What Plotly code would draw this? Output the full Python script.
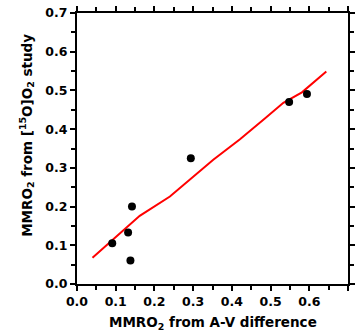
import plotly.graph_objects as go

# Data points (MMRO2 from A-V difference vs from [15O]O2 study)
av_diff = [0.091, 0.132, 0.142, 0.138, 0.294, 0.548, 0.594]
o15_study = [0.105, 0.133, 0.200, 0.061, 0.325, 0.470, 0.491]

# Red regression/smoothing line
line_x = [0.040, 0.162, 0.240, 0.292, 0.352, 0.421, 0.451, 0.486, 0.533, 0.581, 0.644]
line_y = [0.068, 0.176, 0.226, 0.269, 0.321, 0.374, 0.400, 0.428, 0.468, 0.495, 0.549]

FONT = "DejaVu Sans"

fig = go.Figure()
fig.add_trace(go.Scatter(x=line_x, y=line_y, mode="lines",
                         line=dict(color="#ff0000", width=2), showlegend=False))
fig.add_trace(go.Scatter(x=av_diff, y=o15_study, mode="markers",
                         marker=dict(color="black", size=8), showlegend=False))

axis_common = dict(
    range=[0, 0.7], tick0=0, dtick=0.1, tickformat=".1f",
    showline=True, linewidth=2, linecolor="black", mirror="allticks",
    ticks="outside", ticklen=5, tickwidth=2, tickcolor="black",
    minor=dict(dtick=0.05, ticks="outside", ticklen=4, tickwidth=1.5, tickcolor="black"),
    showgrid=False, zeroline=False, automargin=False,
    tickfont=dict(family=FONT, size=12.5, color="black", weight="bold"),
)

fig.update_xaxes(**axis_common)
fig.update_yaxes(**axis_common)

fig.update_layout(
    width=358, height=336,
    margin=dict(l=77, r=10, t=13, b=52),
    plot_bgcolor="white", paper_bgcolor="white",
    font=dict(family=FONT, color="black"),
    annotations=[
        dict(text="MMRO<sub>2</sub> from A-V difference", xref="paper", yref="paper",
             x=0.5, y=-0.145, xanchor="center", yanchor="middle", showarrow=False,
             font=dict(family=FONT, size=13.5, color="black", weight="bold")),
        dict(text="MMRO<sub>2</sub> from [<sup>15</sup>O]O<sub>2</sub> study", xref="paper", yref="paper",
             x=-0.185, y=0.55, xanchor="center", yanchor="middle", textangle=-90, showarrow=False,
             font=dict(family=FONT, size=13.5, color="black", weight="bold")),
    ],
)

fig.write_html("out.html", config={"displayModeBar": False},
               post_script="document.body.style.margin='0';document.body.style.padding='0';")
